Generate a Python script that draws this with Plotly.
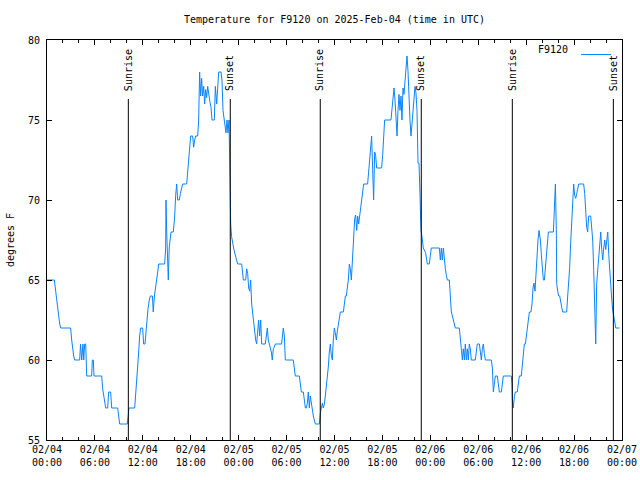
import pandas as pd
import plotly.graph_objects as go

# ---- data (hours since 2025-02-04 00:00 UTC, temperature in F) ----
hours = [
    0, 0.92, 1.09, 1.21, 1.34, 1.46, 1.59, 1.71, 2.96, 3.09, 3.21, 3.34, 3.47, 4.09, 4.2, 4.35, 4.5, 4.6,
    4.72, 4.85, 4.97, 5.59, 5.68, 5.8, 5.88, 6.85, 6.97, 7.1, 7.22, 7.35, 7.6, 7.72, 7.97, 8.1, 8.85, 8.97,
    9.1, 10.06, 10.14, 10.27, 10.98, 11.1, 11.23, 11.35, 11.48, 11.6, 11.73, 11.98, 12.1, 12.27, 12.4,
    12.52, 12.65, 12.81, 12.94, 13.2, 13.3, 13.45, 13.61, 13.73, 13.86, 13.98, 14.73, 14.86, 14.9, 14.99,
    15.1, 15.19, 15.3, 15.4, 15.53, 15.82, 15.99, 16.11, 16.24, 16.36, 16.57, 16.7, 16.86, 16.99, 17.49,
    17.61, 17.74, 17.86, 17.99, 18.24, 18.36, 18.49, 18.61, 18.87, 18.99, 19.11, 19.24, 19.36, 19.49,
    19.62, 19.74, 19.87, 19.99, 20.12, 20.24, 20.41, 20.54, 20.66, 20.95, 21.08, 21.25, 21.37, 21.5,
    21.79, 21.91, 22.04, 22.16, 22.29, 22.41, 22.54, 22.66, 22.79, 22.92, 23.0, 23.12, 23.25, 23.37,
    23.5, 23.7, 23.87, 24.38, 24.5, 24.59, 24.88, 25.0, 25.13, 25.25, 25.38, 25.5, 25.63, 25.75, 25.88,
    26.0, 26.13, 26.25, 26.5, 26.63, 26.76, 26.88, 27.34, 27.46, 27.59, 27.71, 27.84, 27.96, 28.09,
    28.21, 28.34, 28.46, 28.59, 29.38, 29.51, 29.59, 29.72, 29.84, 30.84, 30.97, 31.09, 31.6, 31.72,
    31.85, 32.1, 32.22, 32.35, 32.47, 32.6, 32.72, 32.85, 32.97, 33.1, 33.22, 33.35, 33.6, 34.1, 34.23,
    34.35, 34.48, 34.6, 34.73, 34.85, 34.98, 35.1, 35.23, 35.35, 35.48, 35.6, 35.73, 35.85, 35.98, 36.1,
    36.23, 36.35, 36.48, 36.61, 36.73, 37.11, 37.23, 37.36, 37.48, 37.61, 37.73, 37.86, 37.98, 38.11,
    38.23, 38.36, 38.48, 38.53, 38.65, 38.78, 38.9, 39.03, 39.15, 39.28, 39.4, 39.53, 39.65, 40.15,
    40.28, 40.4, 40.53, 40.65, 40.78, 40.9, 41.03, 41.15, 41.28, 41.9, 42.03, 42.16, 42.28, 43.07, 43.2,
    43.33, 43.45, 43.58, 43.7, 43.83, 43.95, 44.08, 44.2, 44.33, 44.45, 44.58, 44.7, 44.83, 44.95, 45.08,
    45.2, 45.33, 45.45, 45.58, 45.7, 45.83, 45.95, 46.08, 46.2, 46.33, 46.46, 46.58, 46.71, 46.83, 46.96,
    47.12, 47.41, 47.62, 47.87, 47.99, 48.12, 49.13, 49.25, 49.38, 49.5, 49.63, 49.75, 49.88, 50.0,
    50.13, 50.38, 50.51, 50.63, 50.76, 50.88, 51.01, 51.13, 51.63, 51.76, 51.88, 52.01, 52.13, 52.26,
    52.38, 52.51, 52.63, 52.76, 52.88, 53.01, 53.13, 53.63, 53.76, 53.88, 54.14, 54.26, 54.39, 54.51,
    54.64, 54.76, 54.89, 55.64, 55.77, 55.89, 56.02, 56.14, 56.39, 56.52, 56.64, 56.89, 57.02, 57.14,
    58.14, 58.22, 58.27, 58.39, 58.52, 58.64, 58.89, 59.02, 59.14, 59.39, 59.52, 59.65, 59.77, 59.9,
    60.02, 60.15, 60.27, 60.4, 60.6, 60.73, 60.86, 60.98, 61.11, 61.23, 61.36, 61.48, 61.61, 61.78,
    61.9, 62.03, 62.15, 62.28, 62.4, 62.53, 62.65, 62.78, 63.41, 63.53, 63.66, 63.78, 63.82, 63.95,
    64.07, 64.2, 64.32, 64.45, 64.57, 65.07, 65.2, 65.32, 65.45, 65.57, 65.7, 65.82, 65.95, 66.07, 66.2,
    66.33, 66.45, 66.58, 67.08, 67.2, 67.33, 67.45, 67.58, 67.7, 67.83, 67.95, 68.08, 68.2, 68.33,
    68.46, 68.58, 68.71, 68.83, 68.96, 69.08, 69.21, 69.34, 69.46, 69.59, 69.71, 69.84, 69.96, 70.09,
    70.22, 70.34, 70.47, 70.59, 70.72, 70.84, 70.97, 71.1, 71.22, 71.68,
]
temps = [
    65, 65, 64.3, 63.75, 63.2, 62.75, 62.25, 62, 62, 61.25, 60.7, 60.25, 60, 60, 61, 60, 61, 60,
    61, 61, 59, 59, 60, 60, 59, 59, 58.2, 57.75, 57.25, 57, 57, 58, 58, 57, 57, 56.25,
    56, 56, 56.3, 57, 57, 57.75, 58.5, 59.5, 60.5, 61.5, 62, 62, 61, 61, 62,
    62.75, 63.2, 63.75, 64, 64, 63, 64, 64.5, 65, 65.5, 66, 66, 67, 70, 68,
    66, 65, 67, 67.5, 68, 68, 69, 70.3, 71, 70, 70, 70.4, 70.8, 71, 71,
    71.8, 72.5, 73.2, 74, 74, 73.3, 73.75, 74, 74, 75, 78, 76.5, 77.6, 76.5,
    77.1, 76, 76.9, 76.4, 77.1, 76.5, 76.1, 75.8, 75, 75, 77.1, 76, 77, 78,
    78, 77.5, 75.6, 75, 74.5, 74.2, 75, 74.2, 75, 69.6, 68.5, 67.7, 67.2, 67,
    66.7, 66.25, 66, 66, 65.4, 65, 65, 65.7, 65.4, 64.5, 64.3, 65, 63.5, 62.9, 62.2,
    61.8, 61.25, 61, 62.5, 61.5, 62.5, 61, 61, 61.5, 62, 61.25, 61, 60.7, 60.5,
    60, 60.7, 60.8, 61, 61, 61.8, 62, 61.5, 60, 60, 59.5, 59, 59, 58.3,
    58, 58, 57.3, 57, 57, 57.3, 58, 57, 57.75, 57.3, 57, 56.5, 56, 56, 56.7,
    57, 57.3, 57, 57.25, 57.75, 58.3, 58.75, 59.6, 60.5, 61, 60.3, 60, 61.25, 62, 61.7,
    61.25, 61.8, 62.2, 62.7, 63, 63, 63.75, 64, 64, 64.5, 65, 66, 65.7, 65,
    66, 67.3, 68, 68.85, 69.06, 68.1, 69, 68.5, 69, 69.6, 70.1, 70.5, 71, 71,
    71.9, 72.7, 73.3, 74, 71.9, 70, 73, 72.8, 72, 72, 72.8, 74.4, 75, 75, 75.8,
    76.25, 77, 76.25, 75, 74, 75.6, 76.6, 75.6, 76.5, 75, 77, 76.6, 77.5, 78.1, 79,
    78.1, 76.1, 75, 74, 74.9, 75.6, 76.5, 77.1, 76.7, 75.6, 72.3, 72.3, 70.3, 68.1, 67.7,
    67, 66.7, 66, 66, 66.7, 67, 67, 66.25, 67, 66.25, 67, 66.25, 65.7, 65.3,
    65, 65, 63.5, 63, 62.75, 62.5, 62.25, 62, 62, 61.5, 60.7, 60, 60.7, 60,
    61, 60, 60.7, 60, 61, 60.7, 60, 60, 60.4, 61, 61, 60.4, 60, 60.7,
    61, 60.4, 60, 60, 59.5, 58, 58.5, 59, 59, 58.5, 58, 58, 58.5, 59,
    59, 58.5, 57.5, 57, 57.7, 58, 58, 58.5, 59, 59, 59.6, 60.4, 61, 61,
    61.5, 62, 62.75, 63, 63, 63.5, 64.5, 64.8, 64.3, 65.5, 66.5, 67.5, 68.1, 67.5,
    66.6, 65.7, 65, 65, 65.7, 66.7, 67.5, 68, 68, 70.3, 71, 68, 64.8, 64.3,
    64, 64, 63.75, 63.3, 63, 63, 64, 64.8, 65.8, 67.3, 68.9, 70.3, 71, 70.3, 70.1,
    70.4, 70.8, 71, 71, 71, 70.4, 69, 68.3, 68, 69, 69, 69, 68.3, 67.5,
    65.6, 62.5, 61, 64.8, 65.6, 66.7, 67.5, 68, 66.9, 66.25, 67, 67.5, 66.9, 67.7,
    68, 66.6, 65.4, 64.5, 63.75, 63.1, 62.7, 62.25, 62, 62,
]

start = pd.Timestamp("2025-02-04 00:00")
times = start + pd.to_timedelta(hours, unit="h")

sunrise_times = ["2025-02-04 10:11", "2025-02-05 10:13", "2025-02-06 10:16"]
sunset_times = ["2025-02-04 22:57", "2025-02-05 22:52", "2025-02-06 22:55"]

tick_times = pd.date_range("2025-02-04 00:00", "2025-02-07 00:00", freq="6h")
tick_text = [t.strftime("%m/%d<br>%H:%M") for t in tick_times]
minor_times = [t for t in pd.date_range("2025-02-04 00:00", "2025-02-07 00:00", freq="2h") if t.hour % 6 != 0]

y_ticks = [55, 60, 65, 70, 75, 80]

FONT = "DejaVu Sans Mono"

fig = go.Figure()
fig.add_trace(go.Scatter(
    x=times, y=temps, mode="lines", name="",
    line=dict(color="#0a84ff", width=1),
    showlegend=True,
))

shapes = []
annotations = []
for label, tlist in (("Sunrise", sunrise_times), ("Sunset", sunset_times)):
    for t in tlist:
        shapes.append(dict(type="line", xref="x", yref="paper", x0=t, x1=t, y0=0, y1=0.8525,
                           line=dict(color="black", width=1)))
        annotations.append(dict(x=t, y=0.868, xref="x", yref="paper", text=label, textangle=-90,
                                showarrow=False, xanchor="center", yanchor="bottom",
                                font=dict(family=FONT, size=10, color="black")))

fig.update_layout(
    width=640, height=480,
    margin=dict(l=47, r=18, t=40, b=40, autoexpand=False),
    paper_bgcolor="white", plot_bgcolor="white",
    font=dict(family=FONT, size=10, color="black"),
    title=dict(text="Temperature for F9120 on 2025-Feb-04 (time in UTC)",
               x=0.5, xref="paper", xanchor="center",
               y=1 - 19 / 480, yref="container", yanchor="middle",
               font=dict(family=FONT, size=10, color="black")),
    showlegend=True,
    legend=dict(x=1, xanchor="right", y=1.0, yanchor="top", bgcolor="rgba(0,0,0,0)",
                title=dict(text="F9120", side="left", font=dict(family=FONT, size=10)),
                font=dict(family=FONT, size=10), itemwidth=30, tracegroupgap=0),
    shapes=shapes,
    annotations=annotations,
    xaxis=dict(
        range=[tick_times[0], tick_times[-1]],
        tickmode="array", tickvals=list(tick_times), ticktext=tick_text,
        ticks="inside", ticklen=5, tickwidth=1, tickcolor="black",
        showline=True, linecolor="black", linewidth=1, mirror="allticks",
        showgrid=False, zeroline=False, automargin=False,
        tickfont=dict(family=FONT, size=10),
        minor=dict(tickmode="array", tickvals=minor_times, ticks="inside", ticklen=3,
                   tickcolor="black", showgrid=False),
    ),
    yaxis=dict(
        range=[55, 80],
        tickmode="array", tickvals=y_ticks, ticktext=[str(v) for v in y_ticks],
        ticks="inside", ticklen=5, tickwidth=1, tickcolor="black",
        showline=True, linecolor="black", linewidth=1, mirror="allticks",
        showgrid=False, zeroline=False, automargin=False,
        tickfont=dict(family=FONT, size=10),
        ticklabelstandoff=4,
        title=dict(text="degrees F", standoff=11, font=dict(family=FONT, size=10)),
    ),
)

# the page's default 8px body margin would shift the fixed-size figure; remove it
fig.write_html("out.html", config={"displayModeBar": False},
               post_script="document.body.style.margin='0px';")
